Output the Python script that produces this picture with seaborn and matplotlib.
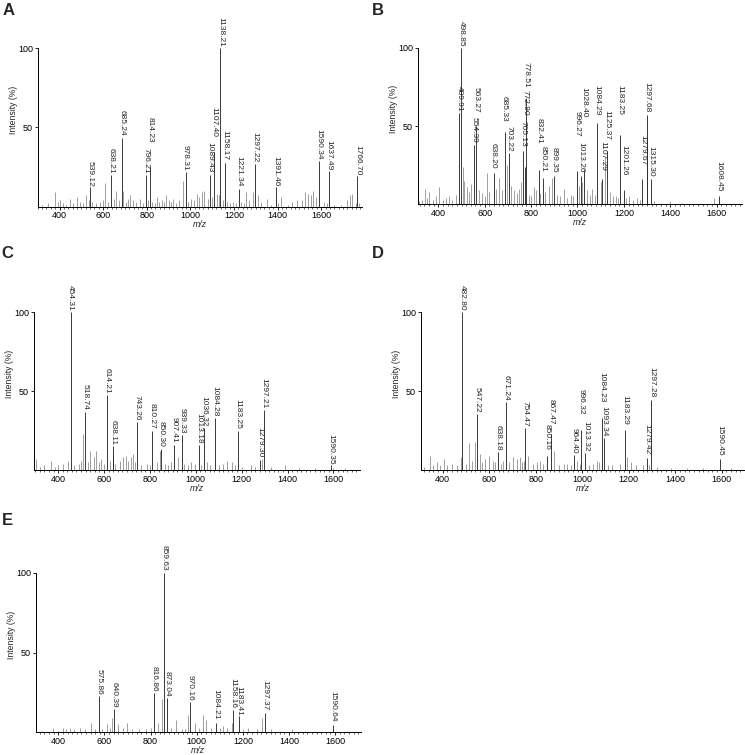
import matplotlib
matplotlib.use("Agg")
import matplotlib.pyplot as plt
from matplotlib.ticker import MultipleLocator
import seaborn as sns

# ------------------------------
# Peak data (m/z, relative intensity %)
# ------------------------------

# A
a_peaks_mz = [539.12, 638.21, 685.24, 796.21, 814.23, 978.31, 1089.43, 1107.40,
              1138.21, 1158.17, 1221.34, 1297.22, 1391.46, 1590.34, 1637.49, 1766.70]
a_peaks_int = [12, 20, 43.5, 20, 25, 22, 20, 34.5, 100, 27.5, 11, 27, 12, 29, 22.5, 19]
a_minor_mz = [320, 345, 379, 392, 402, 415, 432, 448, 460, 479,
              492, 510, 522, 533, 548, 566, 584, 598, 610, 622,
              648, 659, 672, 693, 705, 715, 724, 735, 750, 769,
              781, 805, 826, 838, 846, 857, 870, 880, 889, 900,
              912, 922, 935, 950, 965, 990, 1002, 1015, 1029, 1040,
              1052, 1063, 1080, 1098, 1121, 1130, 1148, 1168, 1180, 1198,
              1210, 1232, 1245, 1255, 1270, 1289, 1312, 1325, 1350, 1370,
              1400, 1416, 1450, 1465, 1491, 1511, 1526, 1541, 1552, 1561,
              1575, 1615, 1625, 1660, 1690, 1717, 1733, 1740, 1760, 1775]
a_minor_int = [1, 2, 9, 3, 4, 2, 1, 5, 2, 6,
               3, 2, 7, 4, 3, 2, 3, 4, 15, 3,
               5, 10, 4, 10, 3, 5, 7, 4, 3, 5,
               2, 4, 3, 2, 6, 3, 4, 3, 7, 4,
               3, 5, 2, 4, 16, 3, 5, 4, 8, 6,
               9, 10, 5, 6, 8, 7, 4, 3, 2, 3,
               2, 3, 2, 9, 4, 9, 7, 3, 5, 1,
               2, 6, 1, 3, 4, 4, 9, 8, 7, 10,
               6, 3, 2, 1, 1, 4, 7, 8, 2, 2]

# B
b_peaks_mz = [489.91, 498.85, 554.39, 563.27, 638.20, 685.33, 703.22, 765.13, 772.90,
              778.51, 832.41, 850.21, 899.35, 996.27, 1013.26, 1028.40, 1084.29, 1107.29,
              1125.37, 1183.25, 1201.26, 1279.67, 1297.68, 1315.30, 1608.45]
b_peaks_int = [58, 100, 38, 50, 20, 46, 33, 34, 24, 68, 22, 17, 18, 21, 18, 22, 52, 16,
               34, 44, 9, 16, 57, 16, 5]
b_minor_mz = [315, 330, 343, 352, 360, 375, 390, 403, 420, 435,
              446, 460, 475, 505, 511, 525, 533, 540, 575, 590,
              600, 609, 620, 650, 662, 675, 695, 712, 725, 740,
              748, 758, 790, 800, 813, 820, 840, 860, 877, 892,
              910, 925, 942, 955, 970, 980, 1005, 1020, 1040, 1055,
              1064, 1075, 1100, 1117, 1140, 1155, 1165, 1175, 1210, 1222,
              1240, 1258, 1270, 1301, 1330, 1360, 1400, 1450, 1500, 1589]
b_minor_int = [2, 3, 10, 4, 8, 3, 5, 11, 3, 4,
               5, 3, 6, 24, 15, 11, 8, 13, 9, 7,
               5, 20, 8, 10, 17, 9, 25, 12, 9, 7,
               10, 14, 6, 5, 11, 9, 7, 8, 12, 17,
               6, 5, 10, 4, 6, 5, 12, 14, 9, 6,
               10, 6, 14, 30, 8, 5, 5, 4, 4, 5,
               3, 4, 3, 42, 2, 1, 2, 1, 1, 4]

# C
c_peaks_mz = [454.31, 518.74, 614.21, 638.11, 743.26, 810.27, 850.30, 907.41,
              939.33, 1013.18, 1036.32, 1084.28, 1183.25, 1279.30, 1297.21, 1590.35]
c_peaks_int = [100, 37, 47.5, 15, 30.5, 25, 13.5, 16, 22, 16, 26.5, 33, 25, 6.5, 38, 3]
c_minor_mz = [303, 320, 340, 371, 385, 400, 422, 444, 470, 490,
              500, 509, 530, 541, 556, 567, 580, 589, 600, 628,
              640, 650, 670, 684, 698, 705, 716, 727, 735, 760,
              786, 800, 830, 844, 865, 880, 890, 924, 950, 965,
              980, 995, 1025, 1050, 1060, 1100, 1120, 1135, 1157, 1170,
              1200, 1240, 1260, 1287, 1330, 1389, 1450, 1520, 1600, 1650]
c_minor_int = [7, 2, 3, 6, 2, 3, 4, 6, 3, 4,
               6, 23, 5, 12, 8, 12, 5, 7, 4, 6,
               10, 4, 6, 8, 9, 6, 8, 10, 5, 3,
               4, 3, 5, 12, 4, 3, 5, 8, 4, 3,
               5, 4, 3, 5, 3, 3, 4, 6, 5, 3,
               2, 3, 2, 7, 2, 3, 1, 1, 1, 1]

# D
d_peaks_mz = [482.80, 547.22, 638.18, 671.24, 754.47, 850.16, 867.47, 964.40,
              996.32, 1013.32, 1084.23, 1093.34, 1183.29, 1279.42, 1297.28, 1590.45]
d_peaks_int = [100, 35.5, 11.5, 43, 26.5, 9, 23, 9.5, 25.5, 10.5, 33, 20, 25.5, 7.5, 44.5, 7]
d_minor_mz = [320, 343, 360, 374, 390, 406, 420, 439, 460, 477,
              500, 514, 525, 539, 560, 570, 582, 597, 614, 625,
              650, 661, 685, 701, 718, 732, 740, 750, 768, 790,
              804, 818, 830, 879, 900, 920, 933, 950, 979, 990,
              1030, 1045, 1062, 1070, 1110, 1130, 1162, 1191, 1208, 1230,
              1260, 1285, 1320, 1380, 1450, 1520, 1640]
d_minor_int = [2, 9, 3, 5, 3, 7, 3, 4, 3, 8,
               4, 17, 6, 18, 10, 5, 7, 9, 6, 5,
               4, 6, 5, 8, 7, 8, 5, 6, 9, 4,
               5, 6, 4, 12, 3, 4, 4, 3, 6, 4,
               3, 4, 6, 5, 3, 3, 4, 8, 5, 3,
               3, 3, 2, 1, 1, 1, 1]

# E
e_peaks_mz = [575.86, 640.39, 816.86, 859.63, 873.04, 970.16, 1084.21, 1158.16,
              1183.41, 1297.37, 1590.64]
e_peaks_int = [22.5, 14.5, 24.5, 100, 21.5, 19, 6, 14, 10, 12, 4.5]
e_minor_mz = [330, 378, 400, 422, 435, 451, 470, 494, 515, 541,
              560, 590, 610, 625, 634, 660, 680, 699, 720, 750,
              780, 800, 834, 851, 890, 910, 935, 950, 964, 993,
              1010, 1029, 1040, 1060, 1100, 1116, 1130, 1152, 1200, 1224,
              1260, 1285, 1320, 1360, 1412, 1470, 1540, 1650]
e_minor_int = [1, 3, 1, 3, 2, 3, 2, 3, 2, 6,
               2, 2, 5, 3, 9, 5, 3, 6, 2, 2,
               2, 3, 6, 21, 3, 8, 2, 2, 11, 6,
               3, 11, 8, 3, 3, 4, 3, 6, 2, 3,
               2, 9, 2, 1, 2, 1, 1, 1]

# where each peak label starts (label bottom, % units) - some are lifted to avoid overlaps
a_label_at = [12.5, 20.5, 44.5, 21, 40, 22.5, 21.5, 44, 101, 29.5, 12.5, 28, 12.5, 29.6, 23, 19.5]
b_label_at = [59, 101, 39.5, 58.5, 22.5, 53, 33.5, 37, 56.5, 74.5, 38.5, 21, 20, 43, 20.5,
              55.5, 56.5, 21.5, 41, 57, 18.5, 25, 58.5, 17.5, 8]
c_label_at = [101, 38, 48.5, 16, 31.5, 26, 14.5, 17, 23, 17, 27.5, 34, 26, 8, 39, 3.5]
d_label_at = [101, 36.5, 12.5, 44, 27.5, 13, 29, 10.5, 35.5, 11.5, 43, 21.5, 29, 10, 46, 9]
e_label_at = [23.5, 15.5, 25.5, 101, 22.5, 20, 8, 15, 10.5, 14, 7]

# ------------------------------
# Style / layout
# ------------------------------
sns.set_theme(style="ticks")
plt.rcParams['font.family'] = ['Liberation Sans', 'DejaVu Sans']

W, H = 745, 755
fig = plt.figure(figsize=(W / 100, H / 100), dpi=100)


def make_axes(left, right, top, bottom):
    # pixel box -> figure fraction
    return fig.add_axes([left / W, 1 - bottom / H, (right - left) / W, (bottom - top) / H])


def draw_spectrum(ax, peaks_mz, peaks_int, label_at, minor_mz, minor_int, xlim):
    ax.vlines(minor_mz, 0, minor_int, color='#8f8f8f', lw=0.6)
    ax.vlines(peaks_mz, 0, peaks_int, color='#1a1a1a', lw=0.6)
    for mz, y in zip(peaks_mz, label_at):
        ax.text(mz, y, f"{mz:.2f}", rotation=270, ha='center', va='bottom',
                fontsize=6.0, clip_on=False)
    ax.set_xlim(xlim)
    ax.set_ylim(0, 100)
    ax.set_yticks([50, 100])
    ax.xaxis.set_major_locator(MultipleLocator(200))
    ax.xaxis.set_minor_locator(MultipleLocator(20))
    ax.tick_params(axis='both', which='major', length=2.5, width=0.6, pad=1, labelsize=6.5,
                   colors='black')
    ax.tick_params(axis='x', which='minor', length=1.5, width=0.5)
    sns.despine(ax=ax)
    for s in ['left', 'bottom']:
        ax.spines[s].set_linewidth(0.7)
        ax.spines[s].set_color('black')
    ax.set_xlabel('m/z', fontsize=6.3, style='italic', labelpad=0)
    ax.set_ylabel('Intensity (%)', fontsize=6.2)
    ax.yaxis.set_label_coords(-20 / (ax.get_position().width * W), 0.61)


panels = [
    ('A', (37.7, 361.7, 48, 206.5), (300, 1786), a_peaks_mz, a_peaks_int, a_label_at, a_minor_mz, a_minor_int, (3, 3)),
    ('B', (417.7, 741.7, 47.7, 204.3), (311, 1708), b_peaks_mz, b_peaks_int, b_label_at, b_minor_mz, b_minor_int, (372, 3)),
    ('C', (34, 360, 312.3, 470), (295, 1716), c_peaks_mz, c_peaks_int, c_label_at, c_minor_mz, c_minor_int, (1, 246)),
    ('D', (420.7, 745, 312.3, 470), (305, 1700), d_peaks_mz, d_peaks_int, d_label_at, d_minor_mz, d_minor_int, (372, 246)),
    ('E', (35.7, 360.7, 572.7, 732.3), (302, 1711), e_peaks_mz, e_peaks_int, e_label_at, e_minor_mz, e_minor_int, (2, 513)),
]

for letter, box, xlim, pmz, pint, lab, mmz, mint, (lx, ly) in panels:
    ax = make_axes(*box)
    draw_spectrum(ax, pmz, pint, lab, mmz, mint, xlim)
    fig.text(lx / W, 1 - ly / H, letter, fontsize=12, weight='bold', ha='left', va='top')

fig.savefig('out.png', dpi=100)
